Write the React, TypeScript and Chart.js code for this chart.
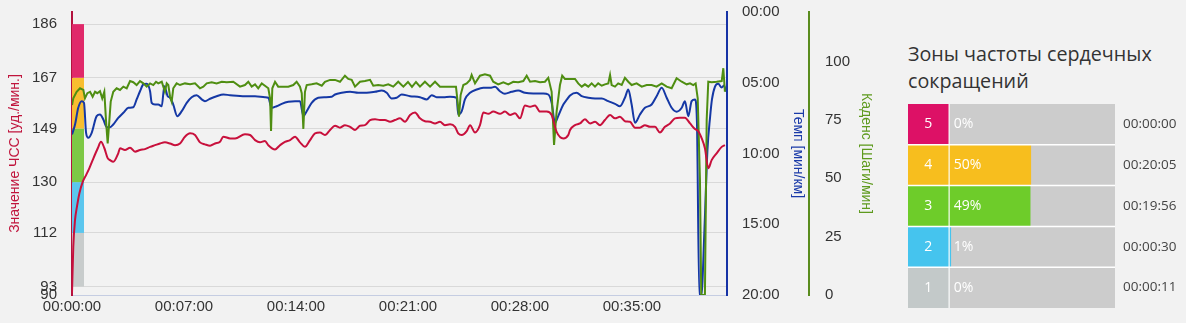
import React, { useEffect, useRef } from 'react';
import { Chart, registerables } from 'chart.js';

Chart.register(...registerables);

// ---------- Main chart data (time in minutes) ----------
const xTickValues = [0, 7, 14, 21, 28, 35];
const xMax = 40.94;

const hrTickValues = [90, 93, 112, 130, 149, 167, 186];
const zoneBounds = [93, 112, 130, 149, 167, 186];
const bandColors = ['#C8CCCC', '#5BC6EE', '#7DC845', '#F8BE30', '#E0296A'];

const cadTickValues = [0, 25, 50, 75, 100];

const hrTimes = [
  0, 0.08, 0.19, 0.31, 0.46, 0.67, 0.88, 1.08, 1.29, 1.61,
  1.81, 2.02, 2.23, 2.38, 2.58, 2.89, 3.0, 3.31, 3.63, 3.94,
  4.25, 4.56, 4.88, 5.19, 5.5, 5.81, 6.13, 6.44, 6.75, 7.06,
  7.38, 7.69, 8.0, 8.31, 8.63, 8.94, 9.25, 9.46, 9.88, 10.19,
  10.81, 11.13, 11.44, 11.75, 12.06, 12.27, 12.69, 13.0, 13.31, 13.63,
  13.94, 14.25, 14.56, 14.88, 15.19, 15.5, 15.81, 16.13, 16.44, 16.75,
  17.06, 17.38, 17.69, 18.0, 18.31, 18.63, 18.94, 19.25, 19.56, 19.88,
  20.19, 20.5, 20.81, 21.13, 21.44, 21.75, 22.06, 22.38, 22.69, 23.0,
  23.31, 23.63, 23.94, 24.14, 24.36, 24.67, 24.88, 25.19, 25.5, 25.71,
  26.02, 26.33, 26.75, 27.06, 27.38, 27.69, 28.0, 28.31, 28.63, 28.94,
  29.25, 29.67, 29.98, 30.29, 30.71, 31.02, 31.13, 31.44, 31.75, 32.06,
  32.38, 32.69, 33.0, 33.31, 33.63, 33.94, 34.25, 34.56, 34.88, 35.19,
  35.5, 35.81, 36.13, 36.44, 36.75, 37.06, 37.38, 37.69, 38.0, 38.31,
  38.63, 38.94, 39.14, 39.36, 39.56, 39.77, 39.98, 40.29, 40.61, 40.81,
];
const hrValues = [
  90.7, 107, 116.6, 121.3, 126, 130.1, 132.5, 134.9, 137.8, 142,
  144.3, 142.1, 138.5, 137.8, 137.2, 140.2, 142, 141.4, 142.2, 140.8,
  141.4, 141.7, 142.5, 143.1, 143.7, 144.1, 143.7, 143.1, 143.7, 146.1,
  147.3, 146.7, 144.1, 143.4, 142.9, 143.7, 144.3, 146.1, 145.5, 145.5,
  147, 146.7, 144.9, 144.1, 144.6, 143.1, 141.6, 143.1, 144.3, 144.9,
  146.1, 144.1, 142.5, 144.9, 147.3, 147.6, 146.7, 148.5, 150, 149.3,
  150.2, 149.6, 148.5, 150, 150.2, 152, 152.3, 152, 152, 151.4,
  152, 152.6, 151.4, 153.8, 154.7, 152.6, 151.6, 151.4, 150.8, 151.4,
  150.2, 150.5, 149.6, 147.3, 146.7, 148.1, 150.2, 147.6, 150.2, 154.7,
  154.2, 155, 154.2, 155, 153.8, 154.4, 152.6, 157.2, 156.7, 157.2,
  155, 155, 153.8, 147.8, 145.5, 146.7, 148.5, 150.2, 150.8, 152.3,
  150.8, 151.4, 150.2, 152, 153.8, 152.6, 153.2, 151.6, 151.4, 149.3,
  149.3, 150.2, 149.6, 149.6, 147.6, 149.6, 150.8, 152.6, 152.8, 152.8,
  150.8, 148.8, 148.1, 145.5, 142, 134.9, 137.8, 140.2, 142.5, 143.1,
];

const paceTimes = [
  0, 0.19, 0.39, 0.61, 0.75, 0.88, 1.02, 1.23, 1.54, 1.75,
  1.96, 2.17, 2.38, 2.58, 2.89, 3.21, 3.52, 3.83, 4.04, 4.25,
  4.46, 4.67, 4.88, 4.98, 5.19, 5.39, 5.61, 5.77, 5.98, 6.13,
  6.33, 6.58, 6.86, 7.17, 7.48, 7.79, 8.11, 8.31, 8.63, 9.04,
  9.46, 9.88, 10.81, 11.44, 12.06, 12.27, 12.48, 12.79, 13.11, 13.52,
  13.94, 14.25, 14.46, 14.67, 14.98, 15.39, 15.81, 16.23, 16.44, 16.86,
  17.38, 17.89, 18.42, 18.94, 19.36, 19.67, 19.98, 20.29, 20.61, 21.13,
  21.75, 22.17, 22.48, 22.79, 23.21, 23.63, 24.04, 24.14, 24.36, 24.56,
  24.88, 25.29, 25.71, 26.13, 26.44, 26.75, 27.06, 27.48, 27.89, 28.31,
  28.83, 29.46, 29.77, 29.98, 30.19, 30.39, 30.71, 30.94, 31.13, 31.54,
  31.86, 32.27, 32.69, 33.11, 33.52, 33.94, 34.25, 34.56, 34.77, 34.98,
  35.19, 35.5, 35.81, 36.23, 36.54, 36.86, 37.17, 37.48, 37.79, 38.11,
  38.31, 38.52, 38.73, 38.94, 39.06, 39.21, 39.34, 39.53, 39.72, 39.88,
  40.0, 40.19, 40.39, 40.61, 40.75, 40.88,
];
const paceValues = [
  8.66, 7.95, 6.77, 6.3, 6.42, 8.54, 8.89, 8.54, 7.36, 7.24,
  7.6, 8.14, 8.14, 7.95, 7.48, 7.12, 6.77, 6.73, 6.18, 5.6,
  5.12, 5.07, 5.6, 6.42, 6.54, 6.54, 6.66, 5.24, 5.95, 6.06,
  6.54, 7.36, 7.01, 6.42, 6.02, 5.88, 6.18, 6.3, 6.13, 5.95,
  5.83, 5.88, 5.95, 5.95, 6.02, 6.06, 6.77, 6.66, 6.49, 6.35,
  6.3, 6.3, 7.36, 7.01, 6.42, 6.06, 6.02, 5.99, 5.83, 5.71,
  5.64, 5.71, 5.71, 5.64, 5.55, 5.71, 6.11, 6.06, 5.83, 5.95,
  6.02, 6.18, 5.88, 6.02, 6.02, 5.99, 6.06, 7.24, 7.01, 6.18,
  5.71, 5.48, 5.36, 5.36, 5.29, 5.6, 5.78, 5.64, 5.55, 5.71,
  5.76, 5.76, 5.83, 6.42, 7.83, 7.36, 6.54, 6.18, 5.9, 5.71,
  5.95, 6.06, 6.11, 6.11, 6.3, 6.49, 6.66, 6.06, 5.48, 6.54,
  7.83, 7.24, 6.77, 6.54, 5.95, 5.36, 6.06, 6.77, 7.05, 6.77,
  6.3, 7.36, 6.3, 6.18, 7.74, 20, 20, 15.37, 9.72, 7.46,
  6.18, 5.27, 5.07, 5.34, 5.19, 5.62,
];

const cadTimes = [
  0, 0.08, 0.29, 0.5, 0.71, 0.81, 0.96, 1.13, 1.29, 1.44,
  1.58, 1.75, 1.89, 2.02, 2.13, 2.23, 2.33, 2.42, 2.58, 2.79,
  3.0, 3.21, 3.42, 3.63, 3.83, 4.04, 4.25, 4.46, 4.67, 4.88,
  5.08, 5.25, 5.39, 5.61, 5.81, 5.92, 6.02, 6.13, 6.23, 6.33,
  6.54, 6.75, 7.06, 7.38, 7.69, 8.0, 8.21, 8.42, 8.73, 9.04,
  9.36, 9.67, 10.08, 10.5, 10.81, 11.02, 11.23, 11.44, 11.64, 11.86,
  12.06, 12.27, 12.38, 12.44, 12.52, 12.69, 12.89, 13.21, 13.52, 13.83,
  14.04, 14.25, 14.36, 14.46, 14.56, 14.67, 14.98, 15.29, 15.61, 15.81,
  16.13, 16.44, 16.75, 17.06, 17.27, 17.48, 17.69, 18.0, 18.31, 18.63,
  18.83, 19.14, 19.46, 19.77, 20.08, 20.39, 20.71, 21.0, 21.25, 21.5,
  21.75, 22.06, 22.38, 22.69, 23.0, 23.42, 23.83, 24.0, 24.08, 24.19,
  24.29, 24.46, 24.67, 24.88, 24.98, 25.19, 25.5, 25.81, 26.13, 26.33,
  26.64, 26.96, 27.27, 27.58, 27.89, 28.21, 28.42, 28.63, 28.94, 29.25,
  29.56, 29.77, 29.98, 30.13, 30.29, 30.5, 30.64, 30.81, 31.44, 31.64,
  31.86, 32.06, 32.27, 32.48, 32.69, 32.89, 33.11, 33.31, 33.52, 33.63,
  33.73, 33.94, 34.14, 34.36, 34.56, 34.77, 34.98, 35.29, 35.61, 35.92,
  36.23, 36.54, 36.86, 37.17, 37.48, 37.79, 38.11, 38.42, 38.63, 38.83,
  38.98, 39.11, 39.25, 39.33, 39.56, 39.67, 39.77, 39.98, 40.29, 40.61,
  40.71, 40.81,
];
const cadValues = [
  81.4, 84.3, 87.1, 88.6, 87.9, 84.3, 86.5, 87.1, 85.0, 87.1,
  86.5, 87.4, 84.3, 87.1, 74.3, 65.0, 74.3, 82.9, 87.1, 88.6,
  87.9, 89.3, 88.6, 91.7, 91.2, 90.0, 91.7, 90.7, 89.3, 90.7,
  90.0, 91.4, 90.7, 91.4, 87.1, 90.7, 90.0, 85.0, 82.9, 88.6,
  90.7, 90.0, 90.7, 90.3, 90.7, 88.6, 89.3, 90.7, 91.2, 90.7,
  91.4, 91.2, 91.4, 89.3, 90.0, 91.4, 89.3, 90.3, 88.6, 90.7,
  89.7, 88.6, 84.3, 70.3, 88.6, 91.4, 89.3, 89.3, 89.3, 90.0,
  91.4, 89.3, 86.5, 71.2, 87.1, 90.0, 90.3, 90.7, 89.7, 91.4,
  92.2, 92.2, 91.4, 94.0, 92.6, 92.2, 89.3, 91.4, 91.7, 92.2,
  89.7, 90.0, 89.7, 90.3, 89.3, 91.4, 89.3, 91.3, 89.2, 91.3,
  89.3, 91.4, 89.3, 91.4, 89.3, 89.3, 89.3, 89.3, 84.3, 76.4,
  85.7, 90.0, 90.7, 92.2, 94.3, 90.7, 94.0, 94.6, 94.0, 91.4,
  90.3, 91.2, 90.3, 91.4, 91.2, 91.7, 94.0, 91.4, 91.7, 91.2,
  91.4, 93.1, 87.1, 64.3, 78.6, 90.0, 94.0, 92.6, 92.6, 90.7,
  89.3, 90.3, 89.3, 90.7, 89.3, 90.7, 89.7, 90.3, 90.7, 94.3,
  90.0, 89.3, 90.7, 90.0, 93.1, 91.4, 90.0, 90.7, 89.3, 90.0,
  90.0, 89.3, 90.7, 89.3, 88.6, 92.9, 91.4, 90.3, 90.7, 90.0,
  90.7, 84.3, 49.3, 0, 0, 75.0, 91.4, 91.2, 91.4, 91.7,
  97.2, 87.1,
];

// ---------- Zone table data ----------
const zoneNames = ['5', '4', '3', '2', '1'];
const zoneDurations = ['00:00:00', '00:20:05', '00:19:56', '00:00:30', '00:00:11'];
const zonePercents = [0, 50, 49, 1, 0];
const zoneColors = ['#DD1166', '#F7BE1E', '#6ECC2A', '#45C4EE', '#C3C9C9'];

const pad2 = (n: number) => String(n).padStart(2, '0');
const fmtHMS = (m: number) => {
  const tot = Math.round(m * 60);
  return pad2(Math.floor(tot / 3600)) + ':' + pad2(Math.floor((tot % 3600) / 60)) + ':' + pad2(tot % 60);
};
const fmtMS = (m: number) => {
  const tot = Math.round(m * 60);
  return pad2(Math.floor(tot / 60)) + ':' + pad2(tot % 60);
};
const toSeconds = (s: string) => s.split(':').reduce((a, p) => a * 60 + Number(p), 0);

const SANS = '"Liberation Sans", Arial, sans-serif';
const OPEN = '"Open Sans", sans-serif';

const fitWidth = (w: number) => (s: any) => {
  s.width = w;
  s.paddingTop = 0;
  s.paddingBottom = 0;
};

const zoneBandPlugin = {
  id: 'zoneBands',
  beforeDatasetsDraw(chart: any) {
    const { ctx, chartArea } = chart;
    const y = chart.scales.y;
    ctx.save();
    for (let i = 0; i < zoneBounds.length - 1; i++) {
      const top = y.getPixelForValue(zoneBounds[i + 1]);
      const bottom = y.getPixelForValue(zoneBounds[i]);
      ctx.fillStyle = bandColors[i];
      ctx.fillRect(chartArea.left, top, 12, bottom - top);
    }
    ctx.restore();
  },
};

const tablePlugin = {
  id: 'zoneTable',
  afterDatasetsDraw(chart: any) {
    const { ctx, chartArea } = chart;
    const y = chart.scales.y;
    const n = zoneNames.length;
    const rowH = (chartArea.bottom - chartArea.top) / n;
    ctx.save();
    zoneNames.forEach((name, i) => {
      const cy = y.getPixelForValue(i);
      ctx.fillStyle = zoneColors[i];
      ctx.fillRect(y.left, cy - rowH / 2, chartArea.left - y.left, rowH);
      ctx.fillStyle = '#ffffff';
      ctx.font = '14px ' + OPEN;
      ctx.textBaseline = 'middle';
      ctx.textAlign = 'center';
      ctx.fillText(name, (y.left + chartArea.left) / 2, cy);
      ctx.textAlign = 'left';
      ctx.fillText(zonePercents[i] + '%', chartArea.left + 5, cy);
    });
    ctx.strokeStyle = '#ffffff';
    ctx.lineWidth = 1.5;
    for (let i = 1; i < n; i++) {
      const yy = chartArea.top + rowH * i;
      ctx.beginPath();
      ctx.moveTo(y.left, yy);
      ctx.lineTo(chartArea.right, yy);
      ctx.stroke();
    }
    ctx.lineWidth = 1;
    ctx.beginPath();
    ctx.moveTo(chartArea.left + 0.5, chartArea.top);
    ctx.lineTo(chartArea.left + 0.5, chartArea.bottom);
    ctx.stroke();
    ctx.restore();
  },
};

export default function App() {
  const mainRef = useRef<HTMLCanvasElement>(null);
  const tableRef = useRef<HTMLCanvasElement>(null);

  useEffect(() => {
    const tickFont = { family: SANS, size: 15 };
    const titleFont = { family: SANS, size: 14 };
    const main = new Chart(mainRef.current as HTMLCanvasElement, {
      type: 'line',
      data: {
        datasets: [
          {
            label: 'HR',
            data: hrTimes.map((t, i) => ({ x: t, y: hrValues[i] })),
            borderColor: '#C8103C',
            borderWidth: 2,
            pointRadius: 0,
            yAxisID: 'y',
            cubicInterpolationMode: 'monotone',
          },
          {
            label: 'Cadence',
            data: cadTimes.map((t, i) => ({ x: t, y: cadValues[i] })),
            borderColor: '#4F8E12',
            borderWidth: 2,
            pointRadius: 0,
            yAxisID: 'cad',
            tension: 0,
          },
          {
            label: 'Pace',
            data: paceTimes.map((t, i) => ({ x: t, y: paceValues[i] })),
            borderColor: '#1538A5',
            borderWidth: 2,
            pointRadius: 0,
            yAxisID: 'pace',
            cubicInterpolationMode: 'monotone',
          },
        ],
      },
      options: {
        responsive: false,
        animation: false,
        layout: { padding: { top: 12, left: 0, right: 0, bottom: 0 } },
        plugins: { legend: { display: false }, tooltip: { enabled: false } },
        scales: {
          x: {
            type: 'linear',
            min: 0,
            max: xMax,
            afterBuildTicks: (s: any) => { s.ticks = xTickValues.map((v) => ({ value: v })); },
            afterFit: (s: any) => { s.height = 28; s.paddingLeft = 0; s.paddingRight = 0; },
            grid: { display: false, drawTicks: false },
            border: { color: '#C5CDE2', width: 1 },
            ticks: {
              font: tickFont, color: '#333', padding: 3, maxRotation: 0, autoSkip: false,
              callback: (v: any) => fmtHMS(Number(v)),
            },
          },
          y: {
            type: 'linear',
            position: 'left',
            min: 90,
            max: 190.3,
            afterBuildTicks: (s: any) => { s.ticks = hrTickValues.map((v) => ({ value: v })); },
            afterFit: fitWidth(72),
            grid: { color: '#D9D9D9', lineWidth: 1, drawTicks: false },
            border: { color: '#B3123E', width: 2 },
            ticks: { font: tickFont, color: '#333', padding: 15, autoSkip: false },
            title: {
              display: true, text: 'Значение ЧСС [уд./мин.]', color: '#C0143C',
              font: titleFont, padding: { top: 7, bottom: 0 },
            },
          },
          pace: {
            type: 'linear',
            position: 'right',
            weight: 0,
            reverse: true,
            min: 0,
            max: 20,
            afterFit: fitWidth(82),
            grid: { display: false, drawTicks: false },
            border: { color: '#1733A6', width: 2 },
            ticks: {
              stepSize: 5, font: tickFont, color: '#333', padding: 15, autoSkip: false,
              callback: (v: any) => fmtMS(Number(v)),
            },
            title: {
              display: true, text: 'Темп [мин/км]', color: '#1A3AA8',
              font: titleFont, padding: { top: 3, bottom: 0 },
            },
          },
          cad: {
            type: 'linear',
            position: 'right',
            weight: 1,
            min: 0,
            max: 121.3,
            afterBuildTicks: (s: any) => { s.ticks = cadTickValues.map((v) => ({ value: v })); },
            afterFit: fitWidth(81),
            grid: { display: false, drawTicks: false },
            border: { color: '#5A8C1E', width: 2 },
            ticks: { font: tickFont, color: '#333', padding: 16, autoSkip: false },
            title: {
              display: true, text: 'Каденс [Шаги/мин]', color: '#5E9A1E',
              font: titleFont, padding: { top: 16, bottom: 0 },
            },
          },
        },
      } as any,
      plugins: [zoneBandPlugin],
    });

    const zoneSeconds = zoneDurations.map(toSeconds);
    const totalSeconds = zoneSeconds.reduce((a, b) => a + b, 0);
    const table = new Chart(tableRef.current as HTMLCanvasElement, {
      type: 'bar',
      data: {
        labels: zoneNames,
        datasets: [
          {
            data: zoneSeconds,
            backgroundColor: zoneColors,
            barPercentage: 1,
            categoryPercentage: 1,
            borderWidth: 0,
          },
          {
            data: zoneSeconds.map((s) => totalSeconds - s),
            backgroundColor: '#CCCCCC',
            barPercentage: 1,
            categoryPercentage: 1,
            borderWidth: 0,
          },
        ],
      },
      options: {
        indexAxis: 'y',
        responsive: false,
        animation: false,
        layout: { padding: 0 },
        plugins: { legend: { display: false }, tooltip: { enabled: false } },
        scales: {
          x: { type: 'linear', stacked: true, min: 0, max: totalSeconds, display: false },
          y: {
            type: 'category',
            stacked: true,
            position: 'left',
            grid: { display: false, drawTicks: false },
            border: { display: false },
            ticks: { display: false },
            afterFit: fitWidth(40.7),
          },
          y2: {
            type: 'category',
            labels: zoneDurations,
            position: 'right',
            offset: true,
            grid: { display: false, drawTicks: false },
            border: { display: false },
            ticks: { color: '#444', font: { family: OPEN, size: 13.5 }, padding: 8 },
            afterFit: fitWidth(71),
          },
        },
      } as any,
      plugins: [tablePlugin],
    });

    return () => {
      main.destroy();
      table.destroy();
    };
  }, []);

  return (
    <div style={{ position: 'absolute', left: 0, top: 0, width: 1186, height: 323, background: '#F2F2F2', overflow: 'hidden' }}>
      <canvas ref={mainRef} width={890} height={323} style={{ position: 'absolute', left: 0, top: 0 }} />
      <div
        style={{
          position: 'absolute', left: 908, top: 40, width: 262,
          fontFamily: OPEN, fontSize: 19.7, lineHeight: '27px', color: '#333',
        }}
      >
        Зоны частоты сердечных сокращений
      </div>
      <canvas ref={tableRef} width={278} height={204} style={{ position: 'absolute', left: 908, top: 104 }} />
    </div>
  );
}
